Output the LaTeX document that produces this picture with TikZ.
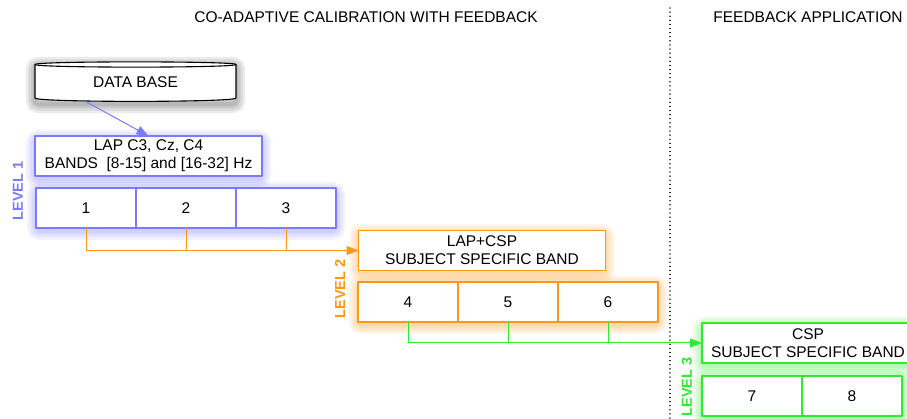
\documentclass[tikz,border=0pt]{standalone}
\usepackage{fontspec}
\setmainfont{Liberation Sans}
\usetikzlibrary{positioning,calc,arrows.meta,backgrounds}
\definecolor{lvlblue}{RGB}{122,122,255}
\definecolor{lvlorange}{RGB}{255,150,20}
\definecolor{lvlgreen}{RGB}{45,235,45}
\begin{document}
\begin{tikzpicture}[x = 1pt, y = -1pt, line cap = round, line join = round,
        every node/.style = {font = \fontsize{15.5}{18}\selectfont},
        header/.style = {draw = #1, fill = white, line width = 1.2pt, minimum height = 40pt, align = center, inner sep = 0pt, outer sep = 0pt},
        cell/.style = {draw = #1, fill = white, line width = 1.2pt, minimum width = 100pt, minimum height = 40pt, inner sep = 0pt, outer sep = 0pt},
        level/.style = {rotate = 90, text = #1, font = \fontsize{14.5}{16}\selectfont\bfseries},
        feed/.style = {draw = #1, line width = 1pt, -{Triangle[length = 12pt, width = 9pt]}},
        drop/.style = {draw = #1, line width = 1pt}]
        %
        \useasboundingbox (0, 0) rectangle (907, 419);

        % titles
        \node (title1) at (366, 17) {CO-ADAPTIVE CALIBRATION WITH FEEDBACK};
        \node (title2) at (808, 17) {FEEDBACK APPLICATION};
        \draw [line width = 1.2pt, dash pattern = on 0.1pt off 4pt] (670, 8) -- (670, 419);

        % data base
        \draw [fill = white, line width = 1.1pt] (35, 64.5) -- (35, 98) .. controls (35, 102.5) and (236, 102.5) .. (236, 98) -- (236, 64.5) .. controls (236, 61) and (35, 61) .. cycle;
        \draw [line width = 1.1pt] (35, 64.5) .. controls (35, 68) and (236, 68) .. (236, 64.5);
        \node [minimum width = 201pt, minimum height = 38pt, inner sep = 0pt] (db) at (135.5, 82) {DATA BASE};

        % level 1
        \node [header = lvlblue, minimum width = 227pt] (h1) at (148.5, 156) {LAP C3, Cz, C4\\BANDS\ \ [8-15] and [16-32] Hz};
        \node [cell = lvlblue] (c1) at (86, 208) {1};
        \node [cell = lvlblue, right = 0pt of c1] (c2) {2};
        \node [cell = lvlblue, right = 0pt of c2] (c3) {3};
        \node [level = lvlblue] (lvl1) at (18, 191) {LEVEL 1};

        % level 2
        \node [header = lvlorange, minimum width = 247pt] (h2) at (482, 250.5) {LAP+CSP\\SUBJECT SPECIFIC BAND};
        \node [cell = lvlorange] (c4) at (408, 302) {4};
        \node [cell = lvlorange, right = 0pt of c4] (c5) {5};
        \node [cell = lvlorange, right = 0pt of c5] (c6) {6};
        \node [level = lvlorange] (lvl2) at (340, 289) {LEVEL 2};

        % level 3
        \node [header = lvlgreen, minimum width = 212pt] (h3) at (808, 343) {CSP\\SUBJECT SPECIFIC BAND};
        \node [cell = lvlgreen] (c7) at (752, 396) {7};
        \node [cell = lvlgreen, right = 0pt of c7] (c8) {8};
        \node [level = lvlgreen] (lvl3) at (687, 387) {LEVEL 3};

        % connectors
        \draw [feed = lvlblue] ($(db.south)!0.5!(db.south west)$) -- (h1.north);
        \draw [feed = lvlorange] (c1.south) |- (h2.west);
        \foreach \c in {c2, c3}
            \draw [drop = lvlorange] (\c.south) -- (\c.south |- h2.west);
        \draw [feed = lvlgreen] (c4.south) |- (h3.west);
        \foreach \c in {c5, c6}
            \draw [drop = lvlgreen] (\c.south) -- (\c.south |- h3.west);

        % glow
        \begin{scope}[on background layer]
            \foreach \a/\b/\col/\op in {db/db/black/0.08, h1/h1/lvlblue/0.1, c1/c3/lvlblue/0.1, h2/h2/lvlorange/0.1, c4/c6/lvlorange/0.1, h3/h3/lvlgreen/0.1, c7/c8/lvlgreen/0.1}
                \foreach \w in {18, 13, 8, 4}
                    \draw [\col, line width = \w pt, opacity = \op, rounded corners = 4pt, transform canvas = {yshift = -3pt}] (\a.north west) rectangle (\b.south east);
        \end{scope}
    \end{tikzpicture}
\end{document}
